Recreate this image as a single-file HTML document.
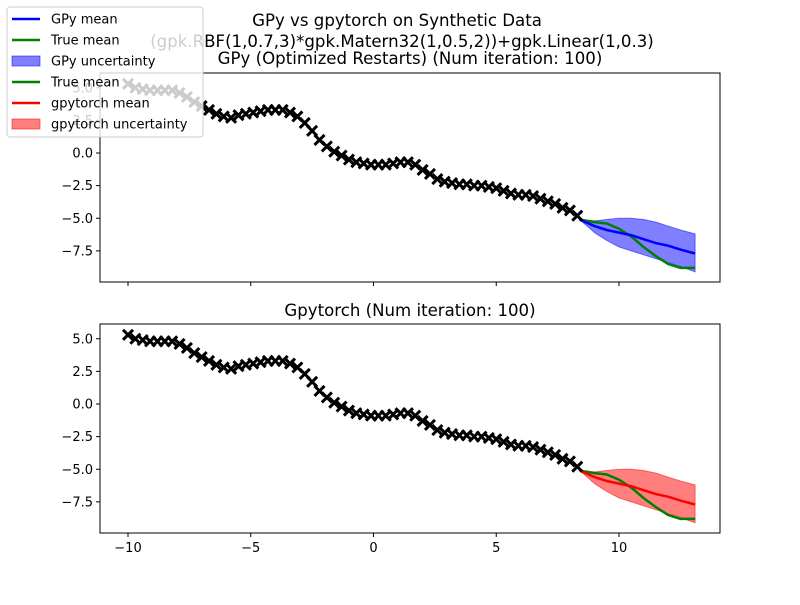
<!DOCTYPE html>
<html><head><meta charset="utf-8"><style>
body{margin:0;background:#fff}
svg text{font-family:"DejaVu Sans","Liberation Sans",sans-serif;fill:#000}
</style></head><body>
<svg id="chart" width="800" height="600" xmlns="http://www.w3.org/2000/svg"></svg>
<script>
const obsY = [5.3,5.0,4.9,4.8,4.8,4.8,4.8,4.6,4.3,3.9,3.6,3.3,3.0,2.8,2.7,2.9,3.0,3.1,3.2,3.3,3.3,3.3,3.1,2.8,2.3,1.7,1.0,0.5,0.1,-0.2,-0.5,-0.7,-0.8,-0.9,-0.9,-0.9,-0.8,-0.7,-0.7,-0.9,-1.3,-1.6,-2.0,-2.2,-2.3,-2.4,-2.4,-2.5,-2.5,-2.6,-2.7,-2.9,-3.1,-3.2,-3.2,-3.3,-3.5,-3.7,-3.9,-4.2,-4.4,-4.8];
const obsX = obsY.map((_, i) => -10 + i * 0.3);
const predX = [8.4,9.0,9.5,10.0,10.5,11.0,11.5,12.0,12.5,13.1];
const predMean = [-5.1,-5.6,-5.9,-6.1,-6.3,-6.6,-6.9,-7.1,-7.4,-7.7];
const trueMean = [-5.1,-5.3,-5.4,-5.8,-6.4,-7.2,-7.9,-8.5,-8.8,-8.8];
const upper = [-5.1,-5.2,-5.1,-5.0,-5.0,-5.1,-5.3,-5.6,-5.9,-6.2];
const lower = [-5.1,-6.1,-6.7,-7.2,-7.5,-7.8,-8.1,-8.4,-8.7,-9.1];
const xTicks = [-10,-5,0,5,10];
const yTicks = [5.0,2.5,0.0,-2.5,-5.0,-7.5];

const NS = "http://www.w3.org/2000/svg";
const svg = document.getElementById('chart');
function el(tag, attrs, parent){const e=document.createElementNS(NS,tag);for(const k in attrs)e.setAttribute(k,attrs[k]);(parent||svg).appendChild(e);return e;}
const xs = v => 128 + (v + 10) * 24.55;
const fmt = v => (v<0?'\u2212':'')+Math.abs(v).toFixed(1);

function panel(top, name, meanColor, fillColor, showXLabels){
  const y0 = top === 73 ? 153 : 404;
  const ys = v => y0 - v * 13.05;
  const g = el('g', {});
  
  
  let d = predX.map((x,i)=>(i?'L':'M')+xs(x)+','+ys(upper[i])).join('');
  d += predX.slice().reverse().map((x,i)=>'L'+xs(x)+','+ys(lower[predX.length-1-i])).join('')+'Z';
  const band = el('path',{d:d,fill:fillColor,'fill-opacity':0.5,stroke:fillColor,'stroke-opacity':0.5},g);
  
  
  const tm = el('path',{d:predX.map((x,i)=>(i?'L':'M')+xs(x)+','+ys(trueMean[i])).join(''),fill:'none',stroke:'green','stroke-width':2.5},g);
  
  
  const pm = el('path',{d:predX.map((x,i)=>(i?'L':'M')+xs(x)+','+ys(predMean[i])).join(''),fill:'none',stroke:meanColor,'stroke-width':2.5},g);
  
  
  for (let i=0;i<obsX.length;i++){
    const cx=xs(obsX[i]), cy=ys(obsY[i]);
    const p = el('path',{d:`M${cx-5},${cy-5}L${cx+5},${cy+5}M${cx-5},${cy+5}L${cx+5},${cy-5}`,stroke:'#000','stroke-width':3},g);
    
    
  }
  const frame = el('rect',{x:100,y:top,width:620,height:209,fill:'none',stroke:'#000','stroke-width':1},g);
  
  
  xTicks.forEach(t=>{
    el('line',{x1:xs(t),x2:xs(t),y1:top+209,y2:top+213,stroke:'#000'},g);
    if(showXLabels){const tx=el('text',{x:xs(t),y:top+228,'text-anchor':'middle','font-size':13},g);tx.textContent=fmt(t).replace('.0','');
      }
  });
  yTicks.forEach(t=>{
    const y=ys(t); if(y<top||y>top+209)return;
    el('line',{x1:96,x2:100,y1:y,y2:y,stroke:'#000'},g);
    const tx=el('text',{x:93,y:y+4.5,'text-anchor':'end','font-size':13},g);tx.textContent=fmt(t);
    
  });
}
panel(73,'gpy-panel','blue','blue',false);
panel(324,'gpytorch-panel','red','red',true);

function txt(s,x,y,size,name,anchor){const t=el('text',{x:x,y:y,'font-size':size,'text-anchor':anchor||'middle'});t.textContent=s;return t;}
txt('GPy vs gpytorch on Synthetic Data',397,26,16.6,'figure-title');
txt('(gpk.RBF(1,0.7,3)*gpk.Matern32(1,0.5,2))+gpk.Linear(1,0.3)',402,47,16.6,'kernel-subtitle');
txt('GPy (Optimized Restarts) (Num iteration: 100)',410,64,16.6,'gpy-panel-title');
txt('Gpytorch (Num iteration: 100)',410,316,16.6,'gpytorch-panel-title');

const lg = el('g',{});


el('rect',{x:7,y:7,width:196,height:130,rx:3,fill:'#fff','fill-opacity':0.8,stroke:'#ccc'},lg);
const items=[['GPy mean','line','blue'],['True mean','line','green'],['GPy uncertainty','patch','blue'],['True mean','line','green'],['gpytorch mean','line','red'],['gpytorch uncertainty','patch','red']];
items.forEach((it,i)=>{
  const y=19+i*21;
  const ent=el('g',{},lg);
  
  
  if(it[1]==='line') el('line',{x1:12,x2:40,y1:y,y2:y,stroke:it[2],'stroke-width':2.5},ent);
  else el('rect',{x:12,y:y-5,width:28,height:10,fill:it[2],'fill-opacity':0.5,stroke:it[2],'stroke-opacity':0.5},ent);
  const t=el('text',{x:51,y:y+4.5,'font-size':13},ent);t.textContent=it[0];
});
</script>
</body></html>
